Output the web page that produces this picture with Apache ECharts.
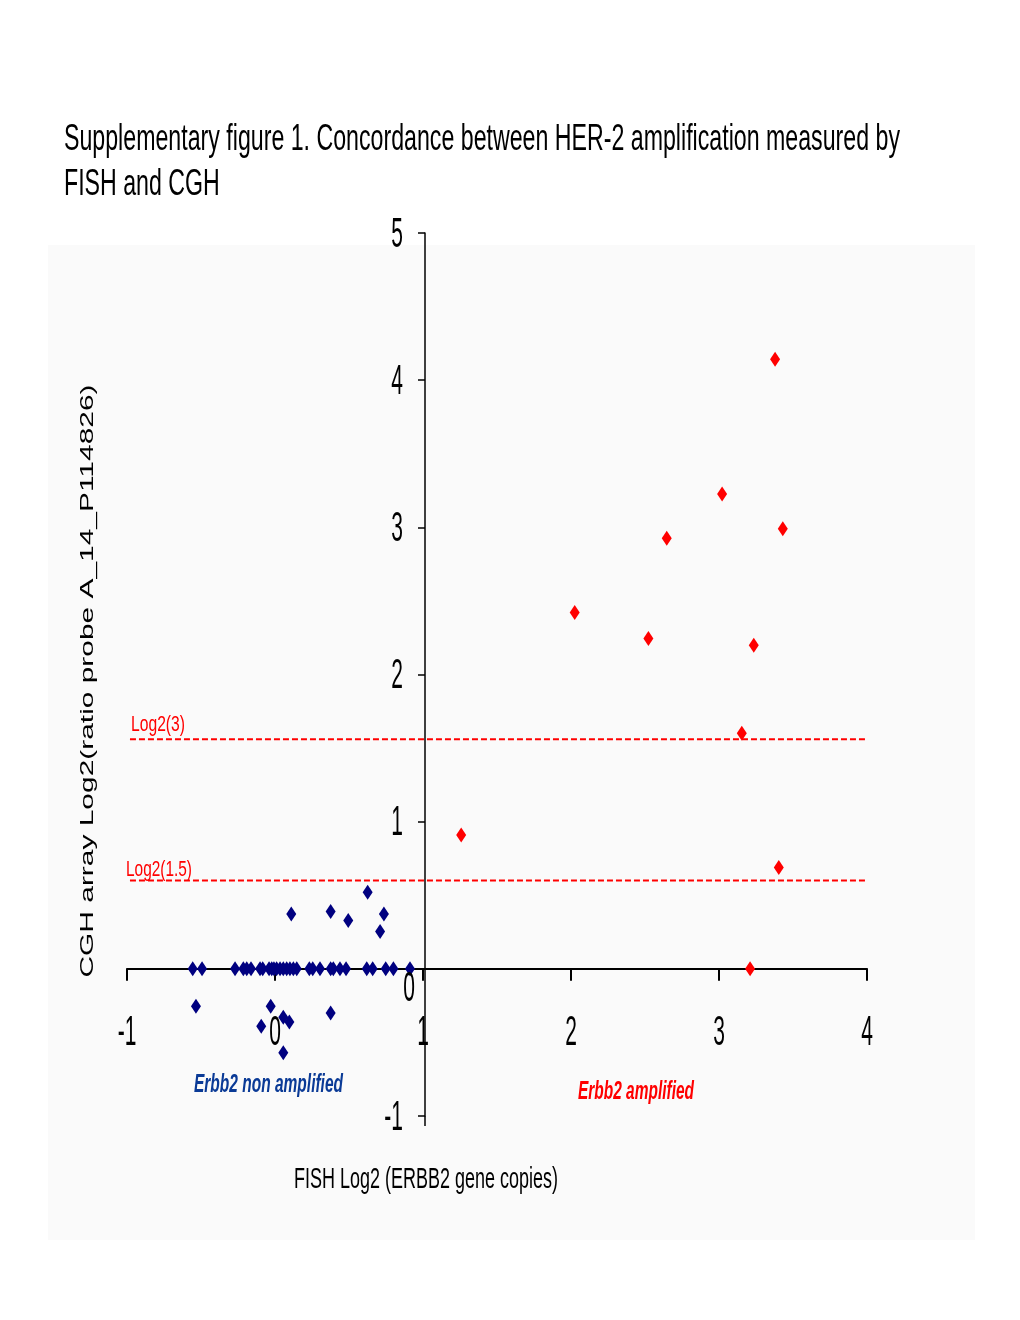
<!DOCTYPE html>
<html>
<head>
<meta charset="utf-8">
<script src="https://cdn.jsdelivr.net/npm/echarts@6/dist/echarts.min.js"></script>
<style>
html,body{margin:0;padding:0;background:#fff;}
#chart{width:1020px;height:1320px;}
</style>
</head>
<body>
<div id="chart"></div>
<script>
// ---------- data ----------
const titleLines = ["Supplementary figure 1. Concordance between HER-2 amplification measured by", "FISH and CGH"];
const xAxisName = "FISH Log2 (ERBB2 gene copies)";
const yAxisName = "CGH array Log2(ratio probe A_14_P114826)";
const groupNames = ["Erbb2 non amplified", "Erbb2 amplified"];

const xTicks = [-1, 0, 1, 2, 3, 4];
const xTickLabels = ["-1", "0", "1", "2", "3", "4"];
const yTicks = [-1, 0, 1, 2, 3, 4, 5];
const yTickLabels = ["-1", "0", "1", "2", "3", "4", "5"];

const nonAmpX = [-0.556, -0.493, -0.27, -0.214, -0.191, -0.162, -0.101, -0.083, -0.04, -0.022, -0.007, 0.011, 0.034, 0.056, 0.079, 0.101, 0.124, 0.147, 0.232, 0.255, 0.304, 0.376, 0.394, 0.439, 0.48, 0.62, 0.66, 0.748, 0.8, 0.912,
                 0.11, 0.376, 0.495, 0.626, 0.736, 0.71, -0.534, -0.029, -0.093, 0.056, 0.097, 0.376, 0.056];
const nonAmpY = [0, 0, 0, 0, 0, 0, 0, 0, 0, 0, 0, 0, 0, 0, 0, 0, 0, 0, 0, 0, 0, 0, 0, 0, 0, 0, 0, 0, 0, 0,
                 0.373, 0.39, 0.328, 0.52, 0.373, 0.253, -0.254, -0.254, -0.39, -0.329, -0.362, -0.30, -0.57];

const ampX = [3.379, 3.021, 3.431, 2.647, 2.025, 2.523, 3.235, 3.154, 1.258, 3.404, 3.21];
const ampY = [4.142, 3.227, 2.99, 2.926, 2.422, 2.244, 2.199, 1.6, 0.91, 0.689, 0];

const thresholdNames = ["Log2(3)", "Log2(1.5)"];
const thresholdValues = [1.56, 0.6];
const thresholdXStart = -0.98;
const thresholdXEnd = 4;

// ---------- layout / style ----------
const X_MIN = -1, X_MAX = 4, Y_MIN = -1, Y_MAX = 5;
const Y_AXIS_CROSS_X = 1;
const GRID = {left: 127, right: 153, top: 233, bottom: 204};
const PLOT_W = 1020 - GRID.left - GRID.right;
const FONT = '"Liberation Sans", Arial, sans-serif';
const BLUE = '#000080';
const RED = '#ff0000';

const cv = document.createElement('canvas').getContext('2d');
function measure(text, size, weight, style) {
  cv.font = (style || 'normal') + ' ' + (weight || 'normal') + ' ' + size + 'px ' + FONT;
  return cv.measureText(text).width;
}
function txt(text, x, y, size, opts) {
  opts = opts || {};
  const w = measure(text, size, opts.weight, opts.style);
  const sx = opts.targetW ? opts.targetW / w : (opts.scaleX || 1);
  const align = opts.align || 'left';
  return {
    type: 'text', x: x, y: y, scaleX: sx, rotation: opts.rotation || 0, z: 100,
    style: {
      text: text, fontSize: size, fontFamily: FONT,
      fontWeight: opts.weight || 'normal', fontStyle: opts.style || 'normal',
      fill: opts.color || '#000',
      textAlign: align, align: align,
      textVerticalAlign: 'middle', verticalAlign: 'middle'
    }
  };
}

const chart = echarts.init(document.getElementById('chart'), null, {renderer: 'canvas'});

const thresholdSeries = thresholdValues.map(function (v, i) {
  return {
    type: 'line', name: thresholdNames[i], silent: true, symbol: 'none', z: 1,
    data: [[thresholdXStart, v], [thresholdXEnd, v]],
    lineStyle: {color: RED, width: 2, type: [6, 3]}
  };
});

chart.setOption({
  animation: false,
  backgroundColor: '#ffffff',
  grid: {left: GRID.left, right: GRID.right, top: GRID.top, bottom: GRID.bottom},
  xAxis: {
    type: 'value', min: X_MIN, max: X_MAX, interval: 1,
    axisLine: {show: true, onZero: true, lineStyle: {color: '#000', width: 2}},
    axisTick: {show: true, length: 12, lineStyle: {color: '#000', width: 2}},
    axisLabel: {show: false}, splitLine: {show: false}
  },
  yAxis: {
    type: 'value', min: Y_MIN, max: Y_MAX, interval: 1, position: 'left',
    offset: -((Y_AXIS_CROSS_X - X_MIN) / (X_MAX - X_MIN)) * PLOT_W - 2,
    axisLine: {show: true, onZero: false, lineStyle: {color: '#000', width: 1.5}},
    axisTick: {show: true, length: 7, lineStyle: {color: '#000', width: 1.5}},
    axisLabel: {show: false}, splitLine: {show: false}
  },
  series: thresholdSeries.concat([
    {
      type: 'scatter', name: groupNames[0], symbol: 'diamond', symbolSize: [10, 15], z: 5,
      itemStyle: {color: BLUE, opacity: 1},
      data: nonAmpX.map(function (x, i) { return [x, nonAmpY[i]]; })
    },
    {
      type: 'scatter', name: groupNames[1], symbol: 'diamond', symbolSize: [10, 15], z: 5,
      itemStyle: {color: RED, opacity: 1},
      data: ampX.map(function (x, i) { return [x, ampY[i]]; })
    }
  ])
});

// ---------- texts placed via the axes ----------
const px = function (x) { return chart.convertToPixel({xAxisIndex: 0}, x); };
const py = function (y) { return chart.convertToPixel({yAxisIndex: 0}, y); };
const axisX = px(Y_AXIS_CROSS_X) + 2;
const zeroY = py(0);

const g = [];
// faint background panel
g.push({type: 'rect', shape: {x: 48, y: 245, width: 927, height: 995}, style: {fill: '#fafafa'}, z: -10, silent: true});
// short extension of the vertical axis below its last tick
g.push({type: 'line', shape: {x1: axisX, y1: py(Y_MIN), x2: axisX, y2: py(Y_MIN) + 10}, style: {stroke: '#000', lineWidth: 1.5}, z: 10, silent: true});

// title
const titleScale = 836 / measure(titleLines[0], 36);
g.push(txt(titleLines[0], 64, 140, 36, {scaleX: titleScale}));
g.push(txt(titleLines[1], 64, 185, 36, {scaleX: titleScale}));

// tick labels
const DIGIT_SCALE = 0.5;
xTicks.forEach(function (t, i) {
  g.push(txt(xTickLabels[i], px(t), zeroY + 65, 42, {align: 'center', scaleX: DIGIT_SCALE}));
});
yTicks.forEach(function (t, i) {
  if (t === 0) {
    g.push(txt(yTickLabels[i], axisX - 10, py(t) + 21, 42, {align: 'right', scaleX: DIGIT_SCALE}));
  } else {
    g.push(txt(yTickLabels[i], axisX - 22, py(t) + 2, 42, {align: 'right', scaleX: DIGIT_SCALE}));
  }
});

// axis names
g.push(txt(xAxisName, 426, 1180, 29, {align: 'center', targetW: 264}));
g.push(txt(yAxisName, 88, 681, 19, {align: 'center', targetW: 593, rotation: Math.PI / 2}));

// group labels
g.push(txt(groupNames[0], 194, 1085, 25, {weight: 'bold', style: 'italic', color: '#0a3a96', targetW: 149}));
g.push(txt(groupNames[1], 578, 1092, 25, {weight: 'bold', style: 'italic', color: RED, targetW: 116}));

// threshold labels
const thrLeft = [131, 126];
const thrW = [54, 66];
const thrDy = [-14, -11];
thresholdValues.forEach(function (v, i) {
  g.push(txt(thresholdNames[i], thrLeft[i], py(v) + thrDy[i], 22, {color: RED, targetW: thrW[i]}));
});

chart.setOption({graphic: {elements: g}});
</script>
</body>
</html>
